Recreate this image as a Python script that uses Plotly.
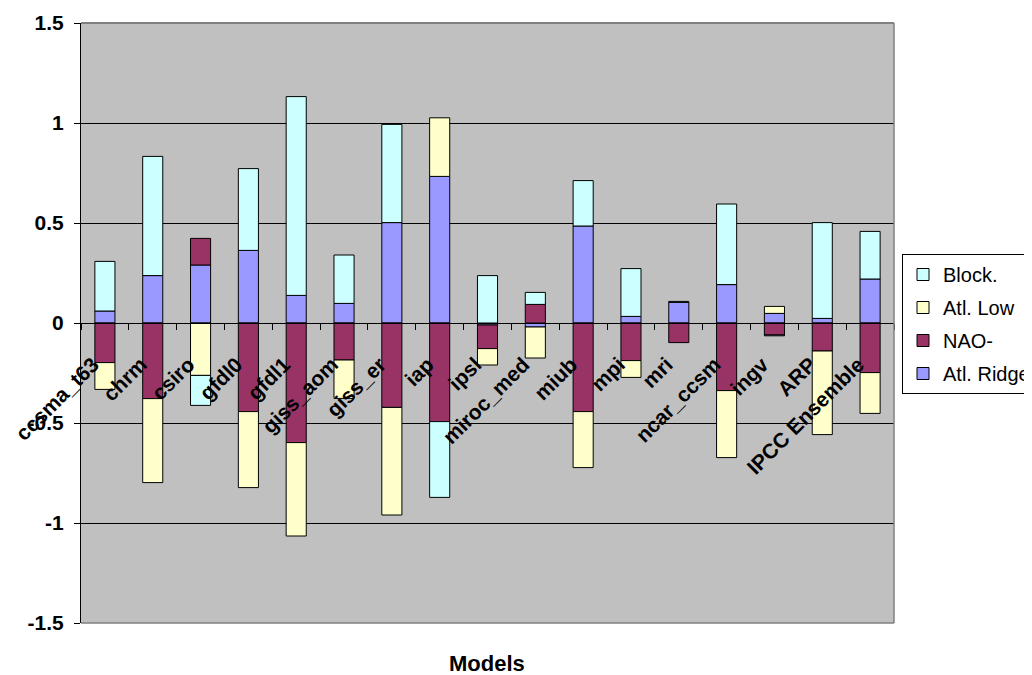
import plotly.graph_objects as go

models = ["ccsma_t63", "chrm", "csiro", "gfdl0", "gfdl1", "giss_aom", "giss_er", "iap",
          "ipsl", "miroc_med", "miub", "mpi", "mri", "ncar_ccsm", "ingv", "ARP", "IPCC Ensemble"]

atl_ridge = [0.06, 0.237, 0.29, 0.363, 0.138, 0.098, 0.502, 0.733,
             -0.01, -0.02, 0.485, 0.033, 0.103, 0.192, 0.048, 0.023, 0.22]
nao_minus = [-0.198, -0.378, 0.133, -0.443, -0.598, -0.185, -0.422, -0.493,
             -0.118, 0.093, -0.443, -0.188, -0.098, -0.338, -0.06, -0.14, -0.248]
atl_low = [-0.134, -0.42, -0.262, -0.38, -0.467, -0.192, -0.538, 0.293,
           -0.082, -0.155, -0.28, -0.084, 0.0, -0.335, 0.035, -0.418, -0.204]
block = [0.248, 0.596, -0.15, 0.409, 0.994, 0.242, 0.491, -0.379,
         0.237, 0.06, 0.227, 0.239, 0.005, 0.403, -0.004, 0.479, 0.238]

y_ticks = [1.5, 1, 0.5, 0, -0.5, -1, -1.5]
y_labels = ["1.5", "1", "0.5", "0", "-0.5", "-1", "-1.5"]

FONT = "Arial, 'Liberation Sans', sans-serif"

series = [
    ("Atl. Ridge", atl_ridge, "#9999FF", 4),
    ("NAO-", nao_minus, "#993366", 3),
    ("Atl. Low", atl_low, "#FFFFCC", 2),
    ("Block.", block, "#CCFFFF", 1),
]

# the page body has an 8px margin; compensate so the plot lands where the reference has it
OFF = 8
PL, PT, PW, PH = 81 - OFF, 23 - OFF, 813, 600

fig = go.Figure()
for name, vals, col, rank in series:
    fig.add_trace(go.Bar(
        x=models, y=vals, name=name, legendgroup=name, legendrank=rank,
        marker=dict(color=col, line=dict(color="#000000", width=1)),
    ))

fig.update_layout(
    width=1032, height=675,
    barmode="relative",
    bargap=0.58,
    paper_bgcolor="white",
    plot_bgcolor="#C0C0C0",
    margin=dict(l=PL, r=1032 - PL - PW, t=PT, b=675 - PT - PH, autoexpand=False),
    font=dict(family=FONT, color="black"),
    showlegend=True,
    legend=dict(
        traceorder="grouped",
        x=(902 - OFF) / 1032, xanchor="left",
        y=1 - (254 - OFF) / 675, yanchor="top",
        xref="container", yref="container",
        bgcolor="white", bordercolor="black", borderwidth=1,
        font=dict(family=FONT, size=20, color="black"),
        itemwidth=30, tracegroupgap=4,
    ),
    xaxis=dict(
        type="category",
        anchor="free", position=0.5,
        showline=True, linecolor="black", linewidth=1,
        ticks="outside", tickson="boundaries", ticklen=6, tickcolor="black",
        tickangle=-45,
        ticklabelstandoff=20, ticklabelshift=-12,
        tickfont=dict(family=FONT, size=21, color="black", weight="bold"),
        showgrid=False,
        zeroline=False,
    ),
    yaxis=dict(
        range=[-1.5, 1.5],
        tickvals=y_ticks, ticktext=y_labels,
        showline=True, linecolor="black", linewidth=1,
        ticks="outside", ticklen=6, tickcolor="black",
        ticklabelstandoff=6,
        tickfont=dict(family=FONT, size=21, color="black", weight="bold"),
        showgrid=True, gridcolor="black", gridwidth=1,
        zeroline=True, zerolinecolor="black", zerolinewidth=1,
    ),
    shapes=[
        dict(type="line", xref="paper", yref="paper", x0=0, x1=1, y0=1, y1=1,
             line=dict(color="#808080", width=2), layer="above"),
        dict(type="line", xref="paper", yref="paper", x0=1, x1=1, y0=0, y1=1,
             line=dict(color="#808080", width=1.5), layer="above"),
        dict(type="line", xref="paper", yref="paper", x0=0, x1=1, y0=0, y1=0,
             line=dict(color="#808080", width=1.5), layer="above"),
    ],
    annotations=[
        dict(text="<b>Models</b>", xref="paper", yref="paper",
             x=(487 - 81) / PW, y=(623 - 663) / PH,
             xanchor="center", yanchor="middle", showarrow=False,
             font=dict(family=FONT, size=22, color="black")),
    ],
)

fig.write_html("out.html")
